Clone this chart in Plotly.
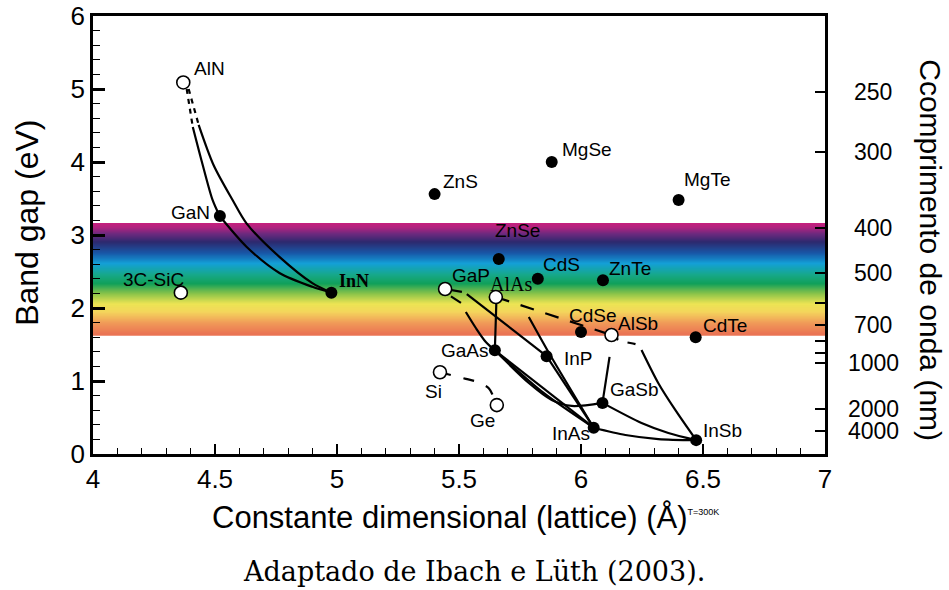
import plotly.graph_objects as go

# ---------------- data ----------------
compounds = ["AlN", "GaN", "InN", "3C-SiC", "ZnS", "MgSe", "MgTe", "ZnSe", "CdS", "ZnTe",
             "GaP", "AlAs", "CdSe", "AlSb", "CdTe", "GaAs", "InP", "Si", "Ge", "GaSb",
             "InAs", "InSb"]
lattice_a = [4.37, 4.52, 4.977, 4.36, 5.40, 5.88, 6.40, 5.663, 5.823, 6.09,
             5.443, 5.651, 6.00, 6.125, 6.47, 5.647, 5.859, 5.422, 5.655, 6.088,
             6.052, 6.472]
band_gap = [5.09, 3.26, 2.21, 2.21, 3.56, 4.00, 3.48, 2.67, 2.40, 2.38,
            2.26, 2.15, 1.67, 1.63, 1.60, 1.42, 1.34, 1.12, 0.67, 0.70,
            0.36, 0.19]
indirect = [True, False, False, True, False, False, False, False, False, False,
            True, True, False, True, False, False, False, True, True, False,
            False, False]

# alloy curves (waypoints, lattice A / eV)
aln_gan_dash_x = [4.384, 4.409]
aln_gan_dash_y = [5.00, 4.48]
aln_gan_x = [4.409, 4.448, 4.490, 4.519]
aln_gan_y = [4.48, 3.98, 3.48, 3.26]
aln_inn_dash_x = [4.392, 4.433]
aln_inn_dash_y = [5.00, 4.51]
aln_inn_x = [4.433, 4.494, 4.572, 4.629, 4.764, 4.899, 4.977]
aln_inn_y = [4.51, 3.96, 3.48, 3.16, 2.70, 2.34, 2.21]
gan_inn_x = [4.519, 4.629, 4.764, 4.899, 4.977]
gan_inn_y = [3.26, 2.84, 2.48, 2.29, 2.21]
gap_stub_x = [5.443, 5.512]
gap_stub_y = [2.26, 2.22]
gap_inp_x = [5.532, 5.859]
gap_inp_y = [2.19, 1.34]
gap_gaas_dash_x = [5.467, 5.508]
gap_gaas_dash_y = [2.16, 2.07]
gap_gaas_x = [5.528, 5.569, 5.610, 5.647]
gap_gaas_y = [1.945, 1.726, 1.534, 1.42]
alas_gaas_x = [5.653, 5.647]
alas_gaas_y = [2.07, 1.42]
alas_alsb_x = [5.651, 6.125]
alas_alsb_y = [2.15, 1.63]
alas_inas_x = [5.786, 5.876, 6.052]
alas_inas_y = [1.877, 1.342, 0.36]
inp_inas_x = [5.859, 6.052]
inp_inas_y = [1.34, 0.36]
gaas_inas_x = [5.647, 6.052]
gaas_inas_y = [1.42, 0.36]
gaas_inas2_x = [5.647, 5.847, 6.052]
gaas_inas2_y = [1.42, 0.836, 0.36]
gaas_gasb_x = [5.647, 5.786, 5.880, 5.962, 6.088]
gaas_gasb_y = [1.42, 0.973, 0.74, 0.658, 0.70]
alsb_gasb_x = [6.117, 6.088]
alsb_gasb_y = [1.33, 0.70]
alsb_insb_dash_x = [6.125, 6.162, 6.235, 6.248]
alsb_insb_dash_y = [1.63, 1.55, 1.49, 1.425]
alsb_insb_x = [6.248, 6.317, 6.387, 6.472]
alsb_insb_y = [1.425, 0.97, 0.60, 0.19]
gasb_insb_x = [6.088, 6.248, 6.358, 6.472]
gasb_insb_y = [0.70, 0.425, 0.288, 0.19]
inas_insb_x = [6.052, 6.182, 6.317, 6.472]
inas_insb_y = [0.36, 0.26, 0.205, 0.19]
si_ge_x = [5.422, 5.528, 5.573, 5.622, 5.655]
si_ge_y = [1.12, 1.03, 0.99, 0.90, 0.67]

# axis ticks
x_ticks = [4, 4.5, 5, 5.5, 6, 6.5, 7]
x_tick_labels = ["4", "4.5", "5", "5.5", "6", "6.5", "7"]
y_ticks = [0, 1, 2, 3, 4, 5, 6]
wavelength_nm = [250, 300, 400, 500, 600, 700, 800, 900, 1000, 2000, 4000]
wavelength_labels = ["250", "300", "400", "500", "", "700", "", "", "1000", "2000", "4000"]
HC_EV_NM = 1239.84

# visible spectrum band
band_bottom_ev = 1.62
band_top_ev = 3.16
band_fracs = [0.0, 0.05, 0.11, 0.18, 0.28, 0.37, 0.47, 0.55, 0.64, 0.73, 0.80, 0.90, 1.0]
band_colors = ["#cc1f7c", "#b0227f", "#6a2a7e", "#2d2a6e", "#1858a8", "#14a0d8",
               "#16a88a", "#12a05a", "#8cc44a", "#ece454", "#f4d65c", "#f09a58", "#ea7254"]

# ---------------- figure ----------------
fig = go.Figure()


def hex2rgb(h):
    return tuple(int(h[i:i + 2], 16) for i in (1, 3, 5))


def color_at(f):
    for i in range(len(band_fracs) - 1):
        f0, f1 = band_fracs[i], band_fracs[i + 1]
        if f0 <= f <= f1:
            t = (f - f0) / (f1 - f0) if f1 > f0 else 0
            c0, c1 = hex2rgb(band_colors[i]), hex2rgb(band_colors[i + 1])
            return "rgb(%d,%d,%d)" % tuple(round(c0[k] + (c1[k] - c0[k]) * t) for k in range(3))
    return band_colors[-1]


N = 110
shapes = []
for i in range(N):
    f0 = i / N
    f1 = (i + 1) / N
    y_hi = band_top_ev - (band_top_ev - band_bottom_ev) * f0
    y_lo = band_top_ev - (band_top_ev - band_bottom_ev) * f1
    over = 0.0 if i == 0 else 0.02
    shapes.append(dict(type="rect", xref="x", yref="y", x0=4, x1=7, y0=y_lo, y1=y_hi + over,
                       fillcolor=color_at((f0 + f1) / 2), line=dict(width=0), layer="below"))

LW = 2.2
curve_list = [
    (aln_gan_dash_x, aln_gan_dash_y, "5px,5px"),
    (aln_gan_x, aln_gan_y, "solid"),
    (aln_inn_dash_x, aln_inn_dash_y, "5px,5px"),
    (aln_inn_x, aln_inn_y, "solid"),
    (gan_inn_x, gan_inn_y, "solid"),
    (gap_stub_x, gap_stub_y, "solid"),
    (gap_inp_x, gap_inp_y, "solid"),
    (gap_gaas_dash_x, gap_gaas_dash_y, "solid"),
    (gap_gaas_x, gap_gaas_y, "solid"),
    (alas_gaas_x, alas_gaas_y, "solid"),
    (alas_alsb_x, alas_alsb_y, "14px,12px"),
    (alas_inas_x, alas_inas_y, "solid"),
    (inp_inas_x, inp_inas_y, "solid"),
    (gaas_inas_x, gaas_inas_y, "solid"),
    (gaas_inas2_x, gaas_inas2_y, "solid"),
    (gaas_gasb_x, gaas_gasb_y, "solid"),
    (alsb_gasb_x, alsb_gasb_y, "solid"),
    (alsb_insb_dash_x, alsb_insb_dash_y, "8px,10px"),
    (alsb_insb_x, alsb_insb_y, "solid"),
    (gasb_insb_x, gasb_insb_y, "solid"),
    (inas_insb_x, inas_insb_y, "solid"),
    (si_ge_x, si_ge_y, "11px,13px"),
]
for cx, cy, dash in curve_list:
    fig.add_trace(go.Scatter(x=cx, y=cy, mode="lines",
                             line=dict(color="black", width=LW, dash=dash,
                                       shape="spline" if len(cx) > 2 else "linear", smoothing=0.8),
                             hoverinfo="skip", showlegend=False))

# markers
fx = [a for a, ind in zip(lattice_a, indirect) if not ind]
fy = [e for e, ind in zip(band_gap, indirect) if not ind]
ox = [a for a, ind in zip(lattice_a, indirect) if ind]
oy = [e for e, ind in zip(band_gap, indirect) if ind]
fig.add_trace(go.Scatter(x=fx, y=fy, mode="markers",
                         marker=dict(size=12, color="black"), showlegend=False))
fig.add_trace(go.Scatter(x=ox, y=oy, mode="markers",
                         marker=dict(size=13, color="white", line=dict(color="black", width=1.6)),
                         showlegend=False))

# right axis (wavelength) ticks
wl_ev = [HC_EV_NM / w for w in wavelength_nm]
fig.add_trace(go.Scatter(x=[None], y=[None], yaxis="y2", showlegend=False))

SANS = "Liberation Sans, Arial, sans-serif"
SERIF = "Liberation Serif, Times New Roman, serif"
CAPTION_FONT = "DejaVu Serif, serif"
label_style = {
    "AlN": ("left", 9, 14, SANS, 19),
    "GaN": ("right", -8, 4, SANS, 19),
    "InN": ("left", 6, 12, SERIF + "; bold", 18),
    "3C-SiC": ("right", 5, 13, SANS, 19),
    "ZnS": ("left", 6, 13, SANS, 19),
    "MgSe": ("left", 8, 13, SANS, 19),
    "MgTe": ("left", 3, 20, SANS, 19),
    "ZnSe": ("left", -6, 29, SANS, 19),
    "CdS": ("left", 3, 14, SANS, 19),
    "ZnTe": ("left", 4, 12, SANS, 19),
    "GaP": ("left", 5, 14, SANS, 19),
    "AlAs": ("left", -8, 13, SERIF, 20),
    "CdSe": ("left", -14, 17, SANS, 19),
    "AlSb": ("left", 4, 12, SANS, 19),
    "CdTe": ("left", 5, 12, SANS, 19),
    "GaAs": ("right", -4, 0, SANS, 19),
    "InP": ("left", 15, -2, SANS, 19),
    "Si": ("center", -6, -19, SANS, 19),
    "Ge": ("center", -14, -15, SANS, 19),
    "GaSb": ("left", 6, 13, SANS, 19),
    "InAs": ("right", -2, -6, SANS, 19),
    "InSb": ("left", 5, 10, SANS, 19),
}
annotations = []
for name, a, e in zip(compounds, lattice_a, band_gap):
    xa, xs, ys, fam, sz = label_style[name]
    bold = fam.endswith("; bold")
    fam = fam.replace("; bold", "")
    txt = "<b>%s</b>" % name if bold else name
    annotations.append(dict(x=a, y=e, xref="x", yref="y", text=txt, showarrow=False,
                            xanchor=xa, yanchor="middle", xshift=xs, yshift=ys,
                            font=dict(family=fam, size=sz, color="black")))

for w, lab in zip(wavelength_nm, wavelength_labels):
    if lab:
        annotations.append(dict(x=1, y=HC_EV_NM / w, xref="paper", yref="y", text=lab,
                                showarrow=False, xanchor="center", yanchor="middle", xshift=48,
                                font=dict(family=SANS, size=23, color="black")))

annotations += [
    dict(x=0.5, y=-0.146, xref="paper", yref="paper", showarrow=False, xshift=6,
         text="Constante dimensional (lattice) (Å)<sup><span style='font-size:9px'>T=300K</span></sup>",
         font=dict(family=SANS, size=31, color="black"), xanchor="center", yanchor="middle"),
    dict(x=-0.090, y=0.528, xref="paper", yref="paper", showarrow=False, textangle=-90,
         text="Band gap (eV)", font=dict(family=SANS, size=32, color="black"),
         xanchor="center", yanchor="middle"),
    dict(x=1.143, y=0.466, xref="paper", yref="paper", showarrow=False, textangle=90,
         text="Ccomprimento de onda (nm)", font=dict(family=SANS, size=30, color="black"),
         xanchor="center", yanchor="middle"),
    dict(x=0.5, y=-0.269, xref="paper", yref="paper", showarrow=False, xshift=15,
         text="Adaptado de Ibach e Lüth (2003).", font=dict(family=CAPTION_FONT, size=27, color="black"),
         xanchor="center", yanchor="middle"),
]

fig.update_layout(
    width=949, height=590,
    margin=dict(l=93, r=124, t=16, b=136, autoexpand=False),
    paper_bgcolor="white", plot_bgcolor="white",
    shapes=shapes, annotations=annotations,
    showlegend=False,
    xaxis=dict(range=[4, 7], tickmode="array", tickvals=x_ticks, ticktext=x_tick_labels,
               ticks="inside", ticklen=10, tickwidth=2, tickcolor="black", automargin=False,
               showline=True, linewidth=2.5, linecolor="black", mirror=True,
               showgrid=False, zeroline=False,
               minor=dict(tickmode="linear", tick0=4, dtick=0.1, ticks="inside", ticklen=6,
                          tickwidth=1.3, tickcolor="black", showgrid=False),
               tickfont=dict(family=SANS, size=26, color="black")),
    yaxis=dict(range=[0, 6], tickmode="array", tickvals=y_ticks, automargin=False,
               ticks="inside", ticklen=12, tickwidth=2.5, tickcolor="black",
               showline=True, linewidth=2.5, linecolor="black", mirror=True,
               showgrid=False, zeroline=False,
               minor=dict(tickmode="linear", tick0=0, dtick=0.2, ticks="inside", ticklen=7,
                          tickwidth=1.3, tickcolor="black", showgrid=False),
               tickfont=dict(family=SANS, size=26, color="black")),
    yaxis2=dict(range=[0, 6], overlaying="y", side="right", tickmode="array", automargin=False,
                tickvals=wl_ev, ticktext=["" for _ in wl_ev],
                ticks="inside", ticklen=10, tickwidth=2, tickcolor="black",
                showline=False, showgrid=False, zeroline=False, showticklabels=False),
)

fig.write_html("out.html", config={"displayModeBar": False},
               post_script="document.body.style.margin='0px';document.body.style.overflow='hidden';")
